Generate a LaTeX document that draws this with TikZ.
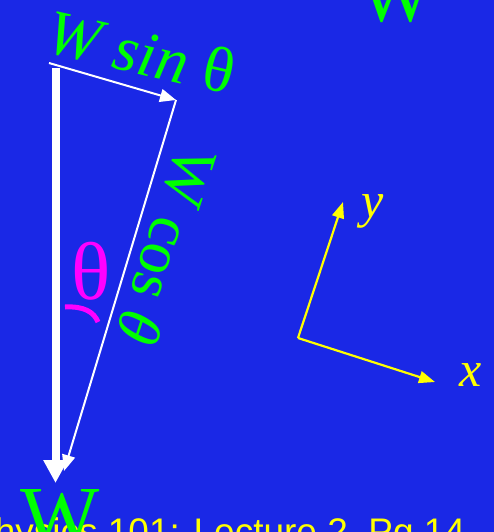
\documentclass[tikz,border=0pt]{standalone}
\usepackage{fontspec}
\setmainfont{Liberation Serif}
\newfontfamily\footfont{Liberation Sans}
\usetikzlibrary{arrows.meta}
\definecolor{bgblue}{RGB}{26,40,230}
\definecolor{lgreen}{RGB}{0,255,0}
\definecolor{mag}{RGB}{255,0,255}
\definecolor{yel}{RGB}{255,255,0}
\tikzset{
  thinvec/.style={draw=white, line width=2pt, -{Triangle[length=16pt,width=13pt]}},
  thickvec/.style={draw=white, line width=8pt, -{Triangle[length=23pt,width=23pt]}},
  axisvec/.style={draw=yel, line width=2.2pt, -{Triangle[length=16pt,width=12pt]}},
  greentext/.style={text=lgreen, inner sep=0pt},
}
\begin{document}
\begin{tikzpicture}[x=1pt,y=-1pt]
\useasboundingbox (0,0) rectangle (494,532);
\clip (0,0) rectangle (494,532);
\fill[bgblue] (0,0) rectangle (494,532);
% coordinates
\coordinate (wtop) at (55.5,68);
\coordinate (wtip) at (55.5,483);
\coordinate (sa) at (49,63);
\coordinate (sb) at (176,100);
\coordinate (cc) at (64,471);
\coordinate (o) at (298,338);
\coordinate (xt) at (435,382);
\coordinate (yt) at (343,202);
% footer
\node[anchor=base west, inner sep=0pt, text=yel, font=\footfont\fontsize{37}{37}\selectfont] (foot) at (-30,544) {Physics 101: Lecture 2, Pg 14};
% vectors
\draw[thickvec] (wtop) -- (wtip);
\draw[thinvec] (sa) -- (sb);
\draw[thinvec] (sb) -- (cc);
% axes
\draw[axisvec] (o) -- (xt);
\draw[axisvec] (o) -- (yt);
\node[text=yel, inner sep=0pt, font=\fontsize{50}{50}\selectfont\itshape] (xl) at (471,375) {x};
\node[text=yel, inner sep=0pt, font=\fontsize{50}{50}\selectfont\itshape] (yl) at (373,211) {y};
% labels
\node[greentext, rotate=-13, font=\fontsize{64}{64}\selectfont] (ws) at (141,52) {\textit{W sin} θ};
\node[greentext, rotate=-108, font=\fontsize{62}{62}\selectfont] (wc) at (167,246) {W cos \textit{θ}};
\node[text=mag, inner sep=0pt, font=\fontsize{82}{82}\selectfont] (th) at (91,271) {θ};
\draw[mag, line width=5pt] (65,307) .. controls (84,306) and (94,312) .. (98,322);
\node[anchor=base, greentext, font=\fontsize{84}{84}\selectfont] (wb) at (60.5,544) {W};
\node[anchor=base, greentext, font=\fontsize{78}{78}\selectfont] (wt) at (396,22) {W};
\end{tikzpicture}
\end{document}
